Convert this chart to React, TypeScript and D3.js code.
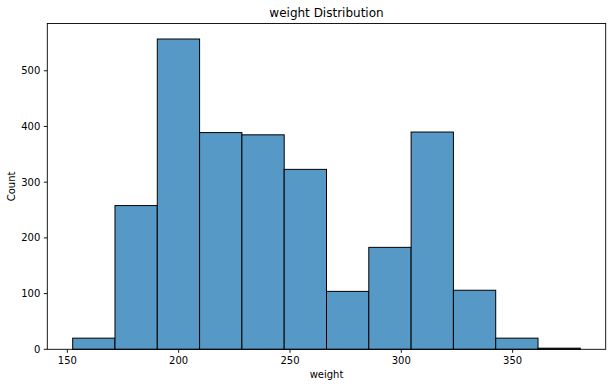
import React from "react";
import * as d3 from "d3";

const binStart = 152.4;
const binWidth = 19.0;
const counts = [20, 258, 557, 389, 385, 323, 104, 183, 390, 106, 20, 2];
const xTicks = [150, 200, 250, 300, 350];
const yTicks = [0, 100, 200, 300, 400, 500];
const title = "weight Distribution";
const xLabel = "weight";
const yLabel = "Count";

export default function App() {
  const W = 612, H = 387;
  const left = 47.3, right = 605.7, top = 23.5, bottom = 349.3;
  const bins = counts.map((c, i) => ({ x0: binStart + i * binWidth, x1: binStart + (i + 1) * binWidth, c }));
  const xmin = binStart, xmax = binStart + counts.length * binWidth;
  const span = xmax - xmin;
  const x = d3.scaleLinear().domain([xmin - 0.05 * span, xmax + 0.05 * span]).range([left, right]);
  const ymax = d3.max(counts) as number;
  const y = d3.scaleLinear().domain([0, ymax * 1.05]).range([bottom, top]);
  const font = "DejaVu Sans, sans-serif";
  return (
    <svg width={W} height={H} style={{ position: "absolute", left: 0, top: 0, background: "#fff" }} fontFamily={font}>
      <rect x={0} y={0} width={W} height={H} fill="#fff" />
      {bins.map((b, i) => (
        <rect key={i} x={x(b.x0)} y={y(b.c)} width={x(b.x1) - x(b.x0)} height={y(0) - y(b.c)}
          fill="#5799c6" stroke="#000" strokeWidth={1} />
      ))}
      <rect x={left} y={top} width={right - left} height={bottom - top} fill="none" stroke="#000" strokeWidth={0.9} />
      {xTicks.map((t) => (
        <g key={t}>
          <line x1={x(t)} x2={x(t)} y1={bottom} y2={bottom + 3.5} stroke="#000" strokeWidth={0.9} />
          <text x={x(t)} y={bottom + 15} fontSize={10} textAnchor="middle" fill="#000">{t}</text>
        </g>
      ))}
      {yTicks.map((t) => (
        <g key={t}>
          <line x1={left - 3.5} x2={left} y1={y(t)} y2={y(t)} stroke="#000" strokeWidth={0.9} />
          <text x={left - 7} y={y(t)} dy="0.35em" fontSize={10} textAnchor="end" fill="#000">{t}</text>
        </g>
      ))}
      <text x={(left + right) / 2} y={17} fontSize={12} textAnchor="middle" fill="#000">{title}</text>
      <text x={(left + right) / 2} y={378} fontSize={10} textAnchor="middle" fill="#000">{xLabel}</text>
      <text transform={`translate(15,${(top + bottom) / 2}) rotate(-90)`} fontSize={10} textAnchor="middle" fill="#000">{yLabel}</text>
    </svg>
  );
}
